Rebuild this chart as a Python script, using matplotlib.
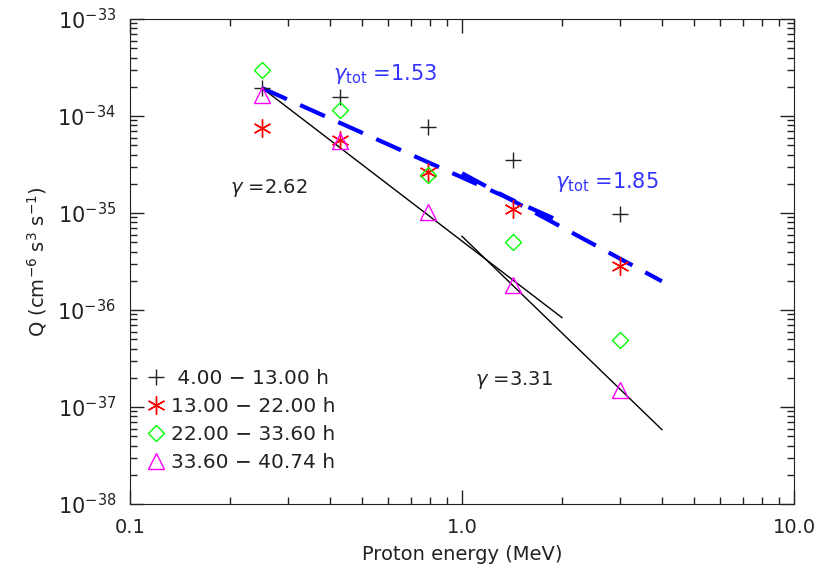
import matplotlib
matplotlib.use('Agg')
import matplotlib.pyplot as plt
import numpy as np
from matplotlib.lines import Line2D

plt.rcParams['font.family'] = 'DejaVu Sans'
plt.rcParams['mathtext.fontset'] = 'dejavusans'

# proton energies (MeV)
energy = [0.25, 0.43, 0.79, 1.42, 3.0]

# Q values for each time interval
q_4_13 = [1.94e-34, 1.57e-34, 7.7e-35, 3.5e-35, 9.8e-36]
q_13_22 = [7.5e-35, 5.7e-35, 2.65e-35, 1.1e-35, 2.85e-36]
q_22_336 = [2.98e-34, 1.15e-34, 2.47e-35, 5.0e-36, 4.9e-37]
q_336_4074 = [1.65e-34, 5.5e-35, 1.02e-35, 1.8e-36, 1.5e-37]

labels = [' 4.00 \u2212 13.00 h', '13.00 \u2212 22.00 h',
          '22.00 \u2212 33.60 h', '33.60 \u2212 40.74 h']

# power-law fits: (E_start, E_end, Q at E_start, gamma)
fit_black = [(0.25, 2.0, 1.94e-34, 2.62), (1.0, 4.0, 5.75e-36, 3.31)]
fit_blue = [(0.25, 2.0, 1.94e-34, 1.53), (1.0, 4.0, 2.57e-35, 1.85)]

H = 572
fig = plt.figure(figsize=(8.19, 5.72), dpi=100)
ax = fig.add_axes([130/819, 1-504/H, 664/819, 485/H])
ax.set_xscale('log')
ax.set_yscale('log')
ax.set_xlim(0.1, 10.0)
ax.set_ylim(1e-38, 1e-33)

def powerlaw(e0, e1, q0, g):
    e = np.array([e0, e1])
    return e, q0*(e/e0)**(-g)

for e0, e1, q0, g in fit_black:
    x, y = powerlaw(e0, e1, q0, g)
    ax.plot(x, y, color='black', lw=1.0, zorder=2)
for e0, e1, q0, g in fit_blue:
    x, y = powerlaw(e0, e1, q0, g)
    ax.plot(x, y, color='#0000ff', lw=3, dashes=(6.5, 3.5), zorder=2)

asterisk = (6, 2, 0)
ax.plot(energy, q_4_13, ls='none', marker='+', ms=12, mew=1.0, color='#222222', zorder=3)
ax.plot(energy, q_13_22, ls='none', marker=asterisk, ms=13, mew=1.0, color='#ff0000', zorder=3)
ax.plot(energy, q_22_336, ls='none', marker='D', ms=8, mew=1.0, mfc='none', mec='#00ff00', zorder=3)
ax.plot(energy, q_336_4074, ls='none', marker='^', ms=11, mew=1.0, mfc='none', mec='#ff00ff', zorder=3)

fs = 14
# annotation positions in pixels from the top-left
ax.text(230, H-193, r'$\gamma$ =2.62', transform=None, fontsize=fs, color='#222222')
ax.text(475, H-385, r'$\gamma$ =3.31', transform=None, fontsize=fs, color='#222222')
ax.text(333, H-80, r'$\gamma_{\rm tot}$ =1.53', transform=None, fontsize=fs+1, color='#3333ff')
ax.text(555, H-188, r'$\gamma_{\rm tot}$ =1.85', transform=None, fontsize=fs+1, color='#3333ff')

handles = [
    Line2D([], [], ls='none', marker='+', ms=12, color='#222222'),
    Line2D([], [], ls='none', marker=asterisk, ms=13, color='#ff0000'),
    Line2D([], [], ls='none', marker='D', ms=8, mfc='none', mec='#00ff00'),
    Line2D([], [], ls='none', marker='^', ms=11, mfc='none', mec='#ff00ff'),
]
leg = ax.legend(handles, labels, loc='lower left', bbox_to_anchor=(0.0155, 0.05),
                frameon=False, fontsize=fs+0.5, handlelength=0.8, handletextpad=0.3,
                labelspacing=0.44, borderaxespad=0)
for t in leg.get_texts():
    t.set_color('#222222')

ax.set_xticks([0.1, 1.0, 10.0])
ax.set_xticklabels(['0.1', '1.0', '10.0'])
ax.set_yticks([1e-38, 1e-37, 1e-36, 1e-35, 1e-34, 1e-33])
ax.set_yticklabels([r'$10^{-%d}$' % k for k in [38, 37, 36, 35, 34, 33]])
ax.tick_params(which='both', direction='in', top=True, right=True, labelsize=fs,
               colors='#222222', pad=10)
ax.tick_params(which='major', length=10, width=1)
ax.tick_params(which='minor', length=5, width=1)
ax.tick_params(axis='y', which='major', labelsize=fs + 1)
for s in ax.spines.values():
    s.set_color('#222222')

ax.set_xlabel('Proton energy (MeV)', fontsize=fs, color='#222222', labelpad=6)
ax.set_ylabel(r'Q (cm$^{-6}$ s$^{3}$ s$^{-1}$)', fontsize=fs, color='#222222', labelpad=6)

fig.savefig('out.png', dpi=100)
